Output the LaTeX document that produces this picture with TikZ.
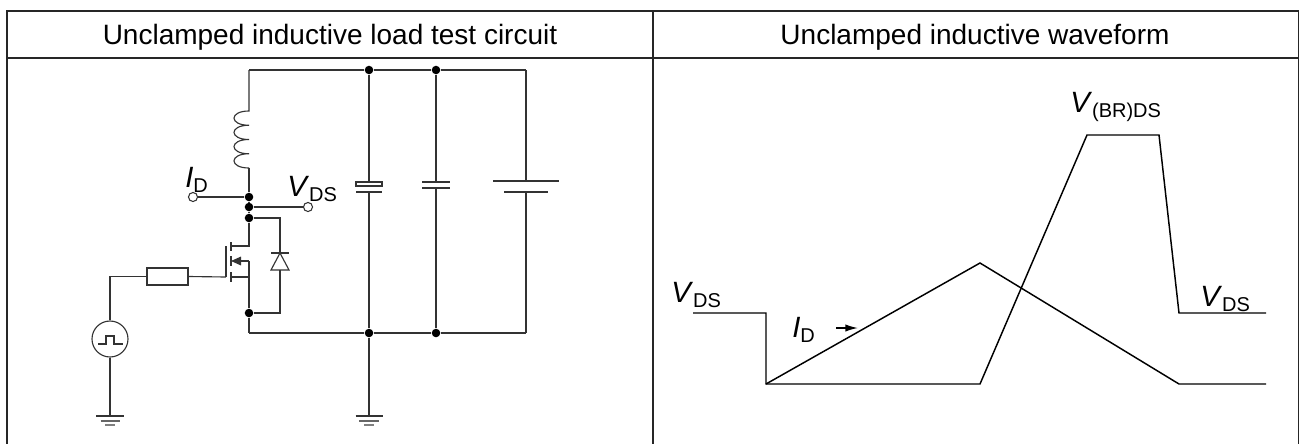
\documentclass[tikz,border=0pt]{standalone}
\usepackage{fontspec}
\setmainfont{Liberation Sans}
\usetikzlibrary{arrows.meta}
\newcommand\lblsub[2]{\fontsize{22}{22}\selectfont\textit{#1}\raisebox{-4pt}{\fontsize{15}{15}\selectfont #2}}
\begin{document}
\begin{tikzpicture}[x=0.75pt,y=-0.75pt,
  frame/.style={line width=1.5pt,draw=black!85},
  wire/.style={line width=0.85pt,draw=black!80},
  wave/.style={line width=1.1pt,draw=black,line join=miter},
  dot/.style={circle,fill=black,inner sep=0pt,minimum size=6.4pt},
  term/.style={circle,draw=black!80,line width=0.8pt,fill=white,inner sep=0pt,minimum size=6.8pt},
  head/.style={font=\fontsize{21}{21}\selectfont,anchor=base,inner sep=0pt},
  lbl/.style={anchor=base west,inner sep=0pt},
  gen/.style={circle,draw=black!80,line width=0.85pt,inner sep=0pt,minimum size=27pt},
  res/.style={rectangle,draw=black!80,line width=0.85pt,inner sep=0pt,minimum width=30.75pt,minimum height=12.75pt}]
\useasboundingbox (0,0) rectangle (1299,443);
% ---------- table frame ----------
\coordinate (tl) at (7,11);
\coordinate (tr) at (1298.5,11);
\coordinate (bl) at (7,445);
\coordinate (br) at (1298.5,445);
\coordinate (hl) at (7,58);
\coordinate (hr) at (1298.5,58);
\coordinate (mt) at (653,11);
\coordinate (mb) at (653,445);
\draw[frame] (bl) -- (tl) -- (tr) -- (br);
\draw[frame] (hl) -- (hr);
\draw[frame] (mt) -- (mb);
\node[head] (h1) at (330,44) {Unclamped inductive load test circuit};
\node[head] (h2) at (975,44) {Unclamped inductive waveform};
% ---------- circuit ----------
\coordinate (tL) at (249,70);
\coordinate (tR) at (526,70);
\coordinate (bL) at (249,333);
\coordinate (bR) at (526,333);
\node[dot] (t1) at (369,70) {};
\node[dot] (t2) at (436,70) {};
\node[dot] (b1) at (369,333) {};
\node[dot] (b2) at (436,333) {};
\node[dot] (dA) at (249,197) {};
\node[dot] (dB) at (249,207) {};
\node[dot] (dC) at (249,218) {};
\node[dot] (dE) at (249,313) {};
\node[term] (tI) at (193,197) {};
\node[term] (tV) at (308,207) {};
% top / bottom rails
\draw[wire] (tL) -- (t1) -- (t2) -- (tR);
\draw[wire] (bL) -- (b1) -- (b2) -- (bR);
% inductor
\coordinate (L1) at (249,111);
\coordinate (L2) at (249,168);
\draw[wire] (tL) -- (L1)
  .. controls +(-20,0) and +(-20,0) .. ++(0,14.25)
  .. controls +(-20,0) and +(-20,0) .. ++(0,14.25)
  .. controls +(-20,0) and +(-20,0) .. ++(0,14.25)
  .. controls +(-20,0) and +(-20,0) .. (L2);
\draw[wire] (L2) -- (dA) -- (dB) -- (dC);
\draw[wire] (tI) -- (dA);
\draw[wire] (dB) -- (tV);
\node[lbl] (lI) at (185,187) {\lblsub{I}{D}};
\node[lbl] (lV) at (287,196) {\lblsub{V}{DS}};
% MOSFET
\coordinate (dr) at (249,246);
\coordinate (dc) at (231,246);
\coordinate (sc) at (231,277);
\coordinate (sr) at (249,277);
\coordinate (ar) at (249,261);
\coordinate (ac) at (231,261);
\coordinate (g1) at (226,246);
\coordinate (g2) at (226,277);
\draw[wire] (dC) -- (dr) -- (dc);
\draw[wire] (sc) -- (sr);
\draw[wire] (g1) -- (g2);
\draw[wire] (231,242) -- (231,251);
\draw[wire] (231,256) -- (231,266);
\draw[wire] (231,272) -- (231,282);
\draw[wire,-{Triangle[length=7.5pt,width=6.5pt]}] (ar) -- (ac);
\draw[wire] (ar) -- (dE) -- (bL);
% diode
\coordinate (dk) at (280,218);
\coordinate (dk2) at (280,253);
\coordinate (da2) at (280,270);
\coordinate (da) at (280,313);
\draw[wire] (dC) -- (dk) -- (dk2);
\draw[wire] (271,253) -- (289,253);
\draw[wire] (dk2) -- (271,270) -- (289,270) -- cycle;
\draw[wire] (da2) -- (da) -- (dE);
% gate drive
\node[res] (R) at (167.5,276.5) {};
\node[gen] (G) at (110,339) {};
\draw[wire] (g2) -- (R.east);
\draw[wire] (R.west) -| (G.north);
\draw[wire] (98,344) -- (106,344) -- (106,336) -- (114,336) -- (114,344) -- (123,344);
\coordinate (gnd1) at (110,416);
\draw[wire] (G.south) -- (gnd1);
\draw[wire] (96,416) -- (124,416);
\draw[wire,draw=black!60] (100.5,421) -- (119.5,421);
\draw[wire,draw=black!50] (105,425) -- (115,425);
% capacitors and battery
\draw[wire] (t1) -- (369,182);
\draw[wire] (356,182) rectangle (382,186);
\draw[wire] (356,192) -- (382,192);
\draw[wire] (369,192) -- (b1);
\draw[wire] (t2) -- (436,182);
\draw[wire] (422,182) -- (450,182);
\draw[wire] (422,188) -- (450,188);
\draw[wire] (436,188) -- (b2);
\draw[wire] (tR) -- (526,181);
\draw[wire] (493,181) -- (559,181);
\draw[wire] (504,192) -- (548,192);
\draw[wire] (526,192) -- (bR);
\coordinate (gnd2) at (369,416);
\draw[wire] (b1) -- (gnd2);
\draw[wire] (355.5,416) -- (382.5,416);
\draw[wire,draw=black!60] (359,421) -- (379,421);
\draw[wire,draw=black!50] (364,425) -- (374,425);
% ---------- waveforms ----------
\coordinate (v0) at (693,313);
\coordinate (v1) at (766,313);
\coordinate (v2) at (766,384);
\coordinate (v3) at (980,384);
\coordinate (v4) at (1087,135);
\coordinate (v5) at (1159,135);
\coordinate (v6) at (1179,313);
\coordinate (v7) at (1266,313);
\coordinate (i1) at (980,263);
\coordinate (i2) at (1179,384);
\coordinate (i3) at (1266,384);
\draw[wave] (v0) -- (v1) -- (v2) -- (v3) -- (v4) -- (v5) -- (v6) -- (v7);
\draw[wave] (v2) -- (i1) -- (i2) -- (i3);
\coordinate (a1) at (836,328);
\coordinate (a2) at (858,328);
\draw[wave,-{Latex[length=9.5pt,width=5.5pt]}] (a1) -- (a2);
\node[lbl] (wV1) at (671,302) {\lblsub{V}{DS}};
\node[lbl] (wI) at (792,337) {\lblsub{I}{D}};
\node[lbl] (wVbr) at (1070,112) {\lblsub{V}{(BR)DS}};
\node[lbl] (wV2) at (1200,306) {\lblsub{V}{DS}};
\end{tikzpicture}
\end{document}
